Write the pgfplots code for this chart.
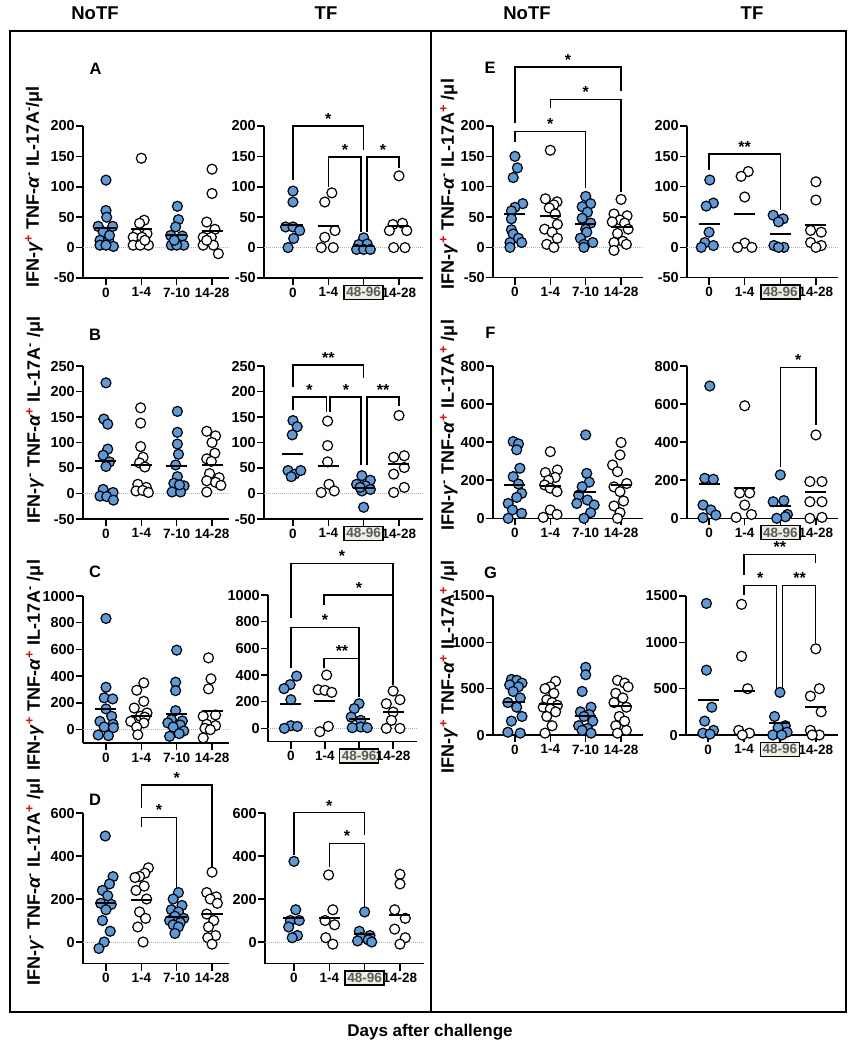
\documentclass[border=0pt]{standalone}
\usepackage{fontspec}
\setmainfont{Liberation Sans}
\usepackage{pgfplots}
\pgfplotsset{compat=1.18}
\definecolor{dotblue}{RGB}{90,155,220}
\definecolor{boxbg}{RGB}{238,238,226}
\setlength{\fboxrule}{1.5pt}
\setlength{\fboxsep}{1.5pt}
\newcommand{\boxlab}{\raisebox{0pt}[\fontcharht\font`\4][\fontchardp\font`\4]{\fcolorbox{black}{boxbg}{\textcolor{black!65}{48-96}}}}
\newcommand{\Pl}{\textsuperscript{\textcolor{red}{+}}}
\newcommand{\Mi}{\textsuperscript{-}}
\newcommand{\brk}[7]{%
  \draw[line width=1.4pt] (axis cs:#1,#4) -- (axis cs:#1,#3) -- (axis cs:#2,#3) -- (axis cs:#2,#5);
  \node[above, inner sep=1.5pt, font=\fontsize{16}{16}\selectfont\bfseries] at (axis cs:#6,#3) {#7};}
\pgfplotsset{
  panel/.style={
    scale only axis,
    axis lines=left,
    axis line style={line width=1.5pt, -},
    tick style={line width=1.5pt, black},
    tick align=outside,
    major tick length=7pt,
    xtick={0,1,2,3},
    clip=false,
    scaled y ticks=false,
    yticklabel style={font=\fontsize{14.5}{16}\selectfont\bfseries, inner xsep=1pt},
    xticklabel style={font=\fontsize{13.5}{15}\selectfont\bfseries, inner ysep=2.5pt},
    /pgf/number format/assume math mode=true,
    /pgf/number format/1000 sep={},
  },
  nt/.style={panel, xmin=-0.65, xmax=3.48, width=146pt, xticklabels={0,1-4,7-10,14-28}},
  tf/.style={panel, xmin=-0.82, xmax=3.68, width=159pt, xticklabels={0,1-4,\boxlab,14-28}},
  ent/.style={panel, xmin=-0.62, xmax=3.62, width=150pt, xticklabels={0,1-4,7-10,14-28}},
  etf/.style={panel, xmin=-0.62, xmax=3.62, width=151pt, xticklabels={0,1-4,\boxlab,14-28}},
  dotF/.style={only marks, mark=*, mark size=5pt, mark options={fill=dotblue, draw=black, line width=1.2pt}},
  dotO/.style={only marks, mark=*, mark size=5pt, mark options={fill=white, draw=black, line width=1.2pt}},
  meanL/.style={only marks, mark=-, mark size=10.5pt, mark options={line width=2pt, draw=black}},
  zl/.style={densely dotted, black!30, line width=1pt},
}
\begin{document}
\begin{tikzpicture}
% frame
\draw[line width=2pt] (10pt,-31pt) rectangle (846pt,-1012pt);
\draw[line width=2pt] (430.5pt,-31pt) -- (430.5pt,-1012pt);
\tikzset{hd/.style={font=\fontsize{18.5}{20}\selectfont\bfseries}}
\node[hd] at (95pt,-13pt) {NoTF};
\node[hd] at (326pt,-13pt) {TF};
\node[hd] at (527pt,-13pt) {NoTF};
\node[hd] at (752pt,-13pt) {TF};
\node[font=\fontsize{17}{19}\selectfont\bfseries] at (430pt,-1032pt) {Days after challenge};
\tikzset{lt/.style={font=\fontsize{16.5}{18}\selectfont\bfseries}}
\node[lt] at (95.5pt,-69pt) {A};
\node[lt] at (95pt,-334.5pt) {B};
\node[lt] at (95pt,-571.5pt) {C};
\node[lt] at (95pt,-800pt) {D};
\node[lt] at (490pt,-68pt) {E};
\node[lt] at (490.5pt,-333pt) {F};
\node[lt] at (490.5pt,-573pt) {G};
\tikzset{yl/.style={rotate=90, font=\fontsize{18}{20}\selectfont\bfseries}}
\node[yl] at (34pt,-187pt) {IFN-\textit{γ}\Pl\ TNF-\textit{α}\Mi\ IL-17A\Mi/μl};
\node[yl] at (35pt,-420pt) {IFN-\textit{γ}\Mi\ TNF-\textit{α}\Pl\ IL-17A\Mi\ /μl};
\node[yl] at (35pt,-665pt) {IFN-\textit{γ}\Pl\ TNF-\textit{α}\Pl\ IL-17A\Mi\ /μl};
\node[yl] at (35pt,-882pt) {IFN-\textit{γ}\Mi\ TNF-\textit{α}\Mi\ IL-17A\Pl\ /μl};
\node[yl] at (449pt,-184pt) {IFN-\textit{γ}\Pl\ TNF-\textit{α}\Mi\ IL-17A\Pl\ /μl};
\node[yl] at (449pt,-425pt) {IFN-\textit{γ}\Mi\ TNF-\textit{α}\Pl\ IL-17A\Pl\ /μl};
\node[yl] at (449pt,-667pt) {IFN-\textit{γ}\Pl\ TNF-\textit{α}\Pl\ IL-17A\Pl\ /μl};

% ---------- A NoTF
\begin{axis}[nt, at={(83pt,-278pt)}, height=152pt, ymin=-50, ymax=200, ytick={-50,0,...,200}]
\addplot[zl] coordinates {(-0.65,0)(3.48,0)};
\addplot[dotF] coordinates {(0,111)(0,61)(0.02,50)(-0.22,35)(0.19,35)(-0.08,26)(-0.17,12)(0.07,12)(-0.17,4)(0.21,2)(0,4)(0.1,20)
 (2.02,68)(2.05,46)(1.97,34)(1.83,20)(2.16,19)(1.85,4)(2.2,4)(2,4)(1.93,12)};
\addplot[dotO] coordinates {(1,147)(1.08,45)(0.95,40)(0.87,23)(1.16,23)(0.77,17)(1.02,17)(1.2,4)(0.77,4)(0.97,4)(1.1,12)
 (3,129)(3,89)(2.85,42)(3.08,30)(2.75,17)(2.98,17)(2.75,4)(3.04,4)(3.18,-10)(2.85,12)};
\addplot[meanL] coordinates {(0,33)(1,31)(2,21)(3,28)};
\end{axis}
% ---------- A TF
\begin{axis}[tf, at={(264pt,-278pt)}, height=152pt, ymin=-50, ymax=200, ytick={-50,0,...,200}]
\addplot[zl] coordinates {(-0.82,0)(3.68,0)};
\addplot[dotF] coordinates {(0,93)(0,75)(-0.21,34)(0,34)(0.19,28)(0.02,15)(-0.14,0)
 (2,16)(1.86,5)(2.1,6)(1.8,-3)(2,-3)(2.19,-3)};
\addplot[dotO] coordinates {(1.1,90)(0.9,75)(1.19,28)(0.9,17)(0.8,0)(1.14,0)
 (3,118)(2.83,38)(3.1,40)(2.73,28)(3.22,28)(2.85,0)(3.17,0)};
\addplot[meanL] coordinates {(0,37)(1,35)(2,3)(3,35)};
\brk{0}{2}{200}{111}{160}{1}{*}
\brk{1}{1.93}{149}{100}{25}{1.47}{*}
\brk{2.1}{3}{149}{25}{131}{2.55}{*}
\end{axis}
% ---------- B NoTF
\begin{axis}[nt, at={(83pt,-519pt)}, height=153pt, ymin=-50, ymax=250, ytick={-50,0,...,250}]
\addplot[zl] coordinates {(-0.65,0)(3.48,0)};
\addplot[dotF] coordinates {(0,217)(-0.06,146)(0.05,136)(0.05,87)(-0.08,75)(0.1,62)(0,53)(-0.08,8)(0.2,2)(-0.17,-5)(0.02,-6)(0.21,-13)
 (2.02,161)(2.02,120)(2.02,97)(2.05,77)(1.97,56)(2.02,33)(1.92,20)(2.21,15)(1.87,3)(2.11,3)(2.08,17)};
\addplot[dotO] coordinates {(0.98,168)(0.98,138)(0.98,92)(1.05,71)(0.95,60)(1.1,52)(0.9,18)(1.14,12)(0.85,5)(1.04,6)(1.2,2)
 (2.85,122)(3.1,113)(3,100)(3.08,79)(2.85,68)(2.98,63)(2.93,39)(3.2,31)(2.85,25)(3.1,22)(3.25,16)(2.85,3)};
\addplot[meanL] coordinates {(0,63)(1,56)(2,54)(3,55)};
\end{axis}
% ---------- B TF
\begin{axis}[tf, at={(264pt,-519pt)}, height=153pt, ymin=-50, ymax=250, ytick={-50,0,...,250}]
\addplot[zl] coordinates {(-0.82,0)(3.68,0)};
\addplot[dotF] coordinates {(0,143)(0.12,131)(-0.02,115)(-0.14,45)(0.05,38)(0.22,45)(-0.05,33)
 (1.95,35)(2.19,26)(1.8,18)(2.05,15)(1.95,5)(2.19,8)(1.9,12)(2,-27)};
\addplot[dotO] coordinates {(0.98,142)(0.98,94)(0.98,62)(1.02,18)(0.8,2)(1.17,5)
 (3,153)(2.85,71)(3.15,74)(2.85,38)(3.15,51)(3.15,12)(2.85,2)};
\addplot[meanL] coordinates {(0,78)(1,54)(2,11)(3,58)};
\brk{0}{2}{252}{209}{226}{1}{**}
\brk{0}{0.95}{189}{163}{160}{0.47}{*}
\brk{1.05}{1.93}{189}{160}{55}{1.5}{*}
\brk{2.1}{3}{189}{55}{172}{2.55}{**}
\end{axis}
% ---------- C NoTF
\begin{axis}[nt, at={(83pt,-743pt)}, height=147pt, ymin=-100, ymax=1000, ytick={0,200,...,1000}]
\addplot[zl] coordinates {(-0.65,0)(3.48,0)};
\addplot[dotF] coordinates {(0,832)(0,317)(-0.05,238)(0.19,230)(0,155)(0.16,100)(-0.17,62)(0.2,40)(-0.05,20)(0.21,15)(-0.22,-40)(0.07,-45)
 (2,595)(1.97,355)(1.97,292)(1.97,142)(1.85,75)(2.16,65)(1.75,50)(2.1,35)(1.9,20)(2.2,-10)(2.07,-30)(1.8,-50)};
\addplot[dotO] coordinates {(1.07,350)(0.87,295)(1.07,212)(0.8,162)(1.16,125)(0.97,100)(1.1,93)(0.7,62)(1.07,50)(0.87,20)(0.9,-38)
 (2.9,537)(2.97,380)(2.9,305)(3.1,110)(2.75,100)(2.85,40)(3.1,30)(2.8,10)(2.95,0)(2.75,-62)};
\addplot[meanL] coordinates {(0,155)(1,105)(2,120)(3,143)};
\end{axis}
% ---------- C TF
\begin{axis}[tf, at={(268pt,-741.7pt)}, width=149pt, xmin=-0.67, xmax=3.7, height=146.7pt, ymin=-100, ymax=1000, ytick={0,200,...,1000}]
\addplot[zl] coordinates {(-0.67,0)(3.7,0)};
\addplot[dotF] coordinates {(0.17,392)(-0.02,328)(-0.2,298)(0,215)(0,20)(0.19,15)(-0.19,0)
 (2,185)(1.86,148)(1.77,85)(2.05,60)(2.05,10)(1.8,5)(2.24,5)};
\addplot[dotO] coordinates {(1.05,400)(0.8,290)(1.0,285)(1.2,270)(1.1,15)(0.85,-25)
 (3,280)(3.2,215)(2.8,185)(3,122)(2.95,60)(2.8,0)(3.2,0)};
\addplot[meanL] coordinates {(0,180)(1,205)(2,70)(3,120)};
\brk{0}{3}{1237}{825}{1000}{1.5}{*}
\brk{0.97}{3}{1000}{925}{325}{2}{*}
\brk{0}{2}{757}{450}{525}{1}{*}
\brk{0.97}{2}{525}{450}{237}{1.5}{**}
\end{axis}
% ---------- D NoTF
\begin{axis}[nt, at={(83pt,-963.5pt)}, height=150.5pt, ymin=-100, ymax=600, ytick={0,200,400,600}]
\addplot[zl] coordinates {(-0.65,0)(3.48,0)};
\addplot[dotF] coordinates {(-0.02,493)(0.2,304)(0.1,270)(-0.1,240)(0.05,215)(-0.15,180)(0.15,175)(0,150)(-0.1,100)(0.12,50)(-0.05,0)(-0.2,-30)
 (2.05,230)(1.9,200)(2.15,170)(1.85,150)(2.05,140)(1.95,120)(2.2,110)(1.8,100)(2.1,90)(1.9,80)(2.05,70)(1.95,40)};
\addplot[dotO] coordinates {(1.2,345)(1.1,320)(0.95,305)(0.82,300)(1.08,260)(0.85,240)(1.15,200)(0.95,140)(1.12,110)(0.9,70)(1.05,0)
 (3,325)(2.85,230)(3.12,210)(2.95,200)(3.15,180)(2.85,130)(3.05,100)(2.9,70)(3.1,30)(2.88,20)(3,-10)};
\addplot[meanL] coordinates {(0,180)(1,195)(2,115)(3,130)};
\brk{1}{3}{730}{623}{344}{2}{*}
\brk{1}{2}{580}{536}{240}{1.5}{*}
\end{axis}
% ---------- D TF
\begin{axis}[tf, at={(265pt,-963.5pt)}, height=150.5pt, ymin=-100, ymax=600, ytick={0,200,400,600}]
\addplot[zl] coordinates {(-0.82,0)(3.68,0)};
\addplot[dotF] coordinates {(0,375)(0.05,150)(-0.1,100)(0.15,100)(-0.15,70)(0.1,30)(-0.05,20)
 (2,140)(1.85,50)(2.15,30)(1.9,20)(2.1,10)(1.8,5)(2.2,0)};
\addplot[dotO] coordinates {(0.98,312)(1.1,150)(0.88,100)(1.15,80)(0.9,20)(1.1,-10)
 (3,315)(3,270)(2.85,150)(3.15,110)(2.85,60)(3.15,20)(3,-10)};
\addplot[meanL] coordinates {(0,110)(1,110)(2,35)(3,125)};
\brk{0}{2}{601}{405}{498}{1}{*}
\brk{1}{2}{459}{350}{160}{1.5}{*}
\end{axis}
% ---------- E NoTF
\begin{axis}[ent, at={(493pt,-277.7pt)}, height=151.7pt, ymin=-50, ymax=200, ytick={-50,0,...,200}]
\addplot[zl] coordinates {(-0.62,0)(3.62,0)};
\addplot[dotF] coordinates {(0,150)(0.07,131)(-0.05,115)(0.22,72)(0,66)(-0.1,60)(-0.1,47)(-0.1,29)(-0.05,22)(0.1,15)(-0.14,8)(0.19,8)(-0.14,0)
 (2,84)(2.14,72)(1.9,67)(2.05,58)(1.9,48)(2.14,40)(2,30)(2.03,25)(1.85,15)(2.2,8)(1.95,5)(1.95,0)};
\addplot[dotO] coordinates {(1,160)(0.86,80)(1.19,75)(1.1,70)(0.97,65)(1.14,55)(1.2,38)(0.84,30)(1.05,25)(1.2,15)(0.9,5)(1.1,0)
 (3,79)(2.8,55)(3.17,52)(2.97,45)(2.75,42)(3.1,40)(3.2,30)(2.9,23)(3.05,10)(2.8,8)(3.15,5)(2.8,-5)};
\addplot[meanL] coordinates {(0,55)(1,52)(2,38)(3,34)};
\brk{0}{3}{297}{205}{258}{1.5}{*}
\brk{1}{3}{244}{229}{92}{2}{*}
\brk{0}{2}{191}{174}{98}{1}{*}
\end{axis}
% ---------- E TF
\begin{axis}[etf, at={(687pt,-277.7pt)}, height=151.7pt, ymin=-50, ymax=200, ytick={-50,0,...,200}]
\addplot[zl] coordinates {(-0.62,0)(3.62,0)};
\addplot[dotF] coordinates {(0.02,111)(0.12,73)(-0.08,68)(0,25)(-0.12,8)(0.12,3)(-0.22,0)
 (1.8,53)(2.08,47)(1.95,42)(1.82,3)(2.1,0)(1.95,0)};
\addplot[dotO] coordinates {(1.1,125)(0.9,117)(1,83)(1,7)(0.8,0)(1.2,0)
 (3,108)(3,78)(2.85,28)(3.15,25)(2.85,8)(3.15,3)(3,0)};
\addplot[meanL] coordinates {(0,39)(1,55)(2,22)(3,37)};
\brk{0}{2}{154}{128}{62}{1}{**}
\end{axis}
% ---------- F NoTF
\begin{axis}[ent, at={(493pt,-518.3pt)}, height=152.3pt, ymin=0, ymax=800, ytick={0,200,...,800}]
\addplot[dotF] coordinates {(-0.05,403)(0.1,391)(0.05,360)(0.14,263)(-0.05,219)(0.1,180)(0.19,131)(0.05,110)(-0.19,78)(-0.07,44)(0.19,26)(-0.19,0)
 (2,438)(2.03,236)(2.1,190)(1.9,166)(1.8,122)(2.05,96)(1.75,78)(2.24,70)(2.14,30)(1.95,0)};
\addplot[dotO] coordinates {(1,350)(1.2,254)(0.86,240)(1.14,215)(0.95,200)(0.84,175)(1,158)(1.19,140)(1,44)(1.19,20)(0.8,5)
 (3,398)(2.97,333)(2.76,280)(2.9,245)(3.16,183)(2.8,165)(2.97,140)(3.07,91)(2.8,65)(2.97,30)(2.9,0)};
\addplot[meanL] coordinates {(0,175)(1,170)(2,140)(3,175)};
\end{axis}
% ---------- F TF
\begin{axis}[etf, at={(687pt,-518.3pt)}, height=152.3pt, ymin=0, ymax=800, ytick={0,200,...,800}]
\addplot[dotF] coordinates {(0.02,695)(-0.12,210)(0.12,205)(-0.17,70)(0.05,44)(0.19,17)(-0.17,3)
 (2,228)(2.1,93)(1.8,87)(2.2,20)(2.14,8)(1.9,0)};
\addplot[dotO] coordinates {(1,591)(0.86,133)(1.14,133)(1,70)(0.76,5)(1.19,20)
 (3,438)(2.83,193)(3.17,193)(2.83,87)(3.17,87)(2.83,0)(3.17,5)};
\addplot[meanL] coordinates {(0,179)(1,161)(2,66)(3,140)};
\brk{2}{3}{793}{272}{491}{2.5}{*}
\end{axis}
% ---------- G NoTF
\begin{axis}[ent, at={(493pt,-735pt)}, height=139pt, ymin=0, ymax=1500, ytick={0,500,1000,1500}]
\addplot[dotF] coordinates {(-0.1,600)(0.05,590)(0.2,560)(-0.15,540)(0.1,520)(-0.05,470)(0.15,400)(-0.2,350)(0.05,300)(0.2,200)(-0.1,150)(-0.2,30)(0.15,20)
 (2,730)(2,650)(1.9,470)(2.15,300)(1.85,250)(2.1,220)(1.95,200)(2.2,150)(1.8,100)(2.05,70)(1.9,50)(2.15,20)};
\addplot[dotO] coordinates {(1.15,580)(1,520)(0.85,500)(1.1,450)(0.9,380)(1.05,350)(1.2,320)(0.8,300)(1,280)(1.15,250)(0.9,200)(1.05,100)(0.85,20)
 (2.9,590)(3.1,560)(3.2,520)(2.85,450)(3.05,400)(2.8,350)(3.15,300)(2.95,200)(3.1,150)(2.85,100)(3.15,50)(2.9,20)};
\addplot[meanL] coordinates {(0,355)(1,330)(2,205)(3,310)};
\end{axis}
% ---------- G TF
\begin{axis}[etf, at={(686pt,-735pt)}, width=152pt, height=139pt, ymin=0, ymax=1500, ytick={0,500,1000,1500}]
\addplot[dotF] coordinates {(-0.05,1420)(-0.05,700)(0.1,300)(-0.1,150)(0.15,50)(-0.15,20)(0.05,10)
 (2,460)(1.85,200)(2.15,100)(1.95,80)(2.2,30)(1.8,0)(2.05,0)};
\addplot[dotO] coordinates {(0.93,1410)(0.93,850)(1.1,500)(0.85,50)(1.15,20)(0.95,0)
 (3,930)(3.1,500)(2.85,420)(3.15,250)(2.85,50)(3.1,0)(2.9,0)};
\addplot[meanL] coordinates {(0,380)(1,470)(2,125)(3,300)};
\brk{1}{3}{1951}{1728}{1854}{2}{**}
\brk{1}{1.9}{1612}{1512}{486}{1.45}{*}
\brk{2.08}{3}{1612}{486}{990}{2.55}{**}
\end{axis}
\pgfresetboundingbox
\path[use as bounding box] (0pt,0pt) rectangle (856pt,-1050pt);
\end{tikzpicture}
\end{document}
